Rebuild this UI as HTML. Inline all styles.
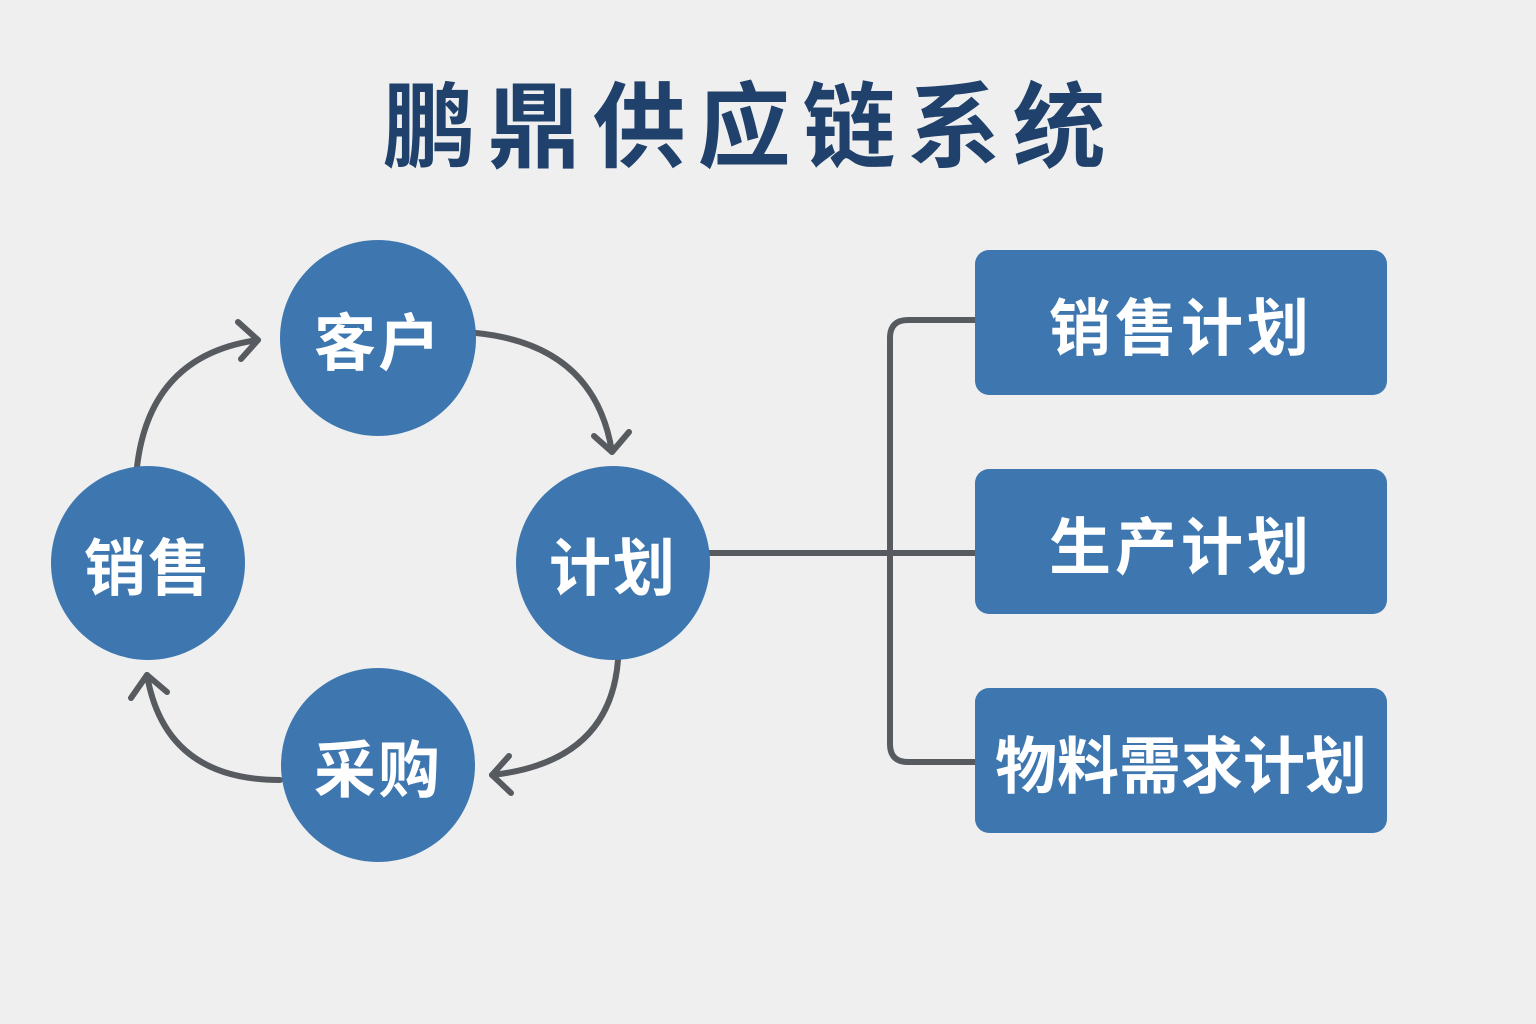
<!DOCTYPE html>
<html><head><meta charset="utf-8"><style>
html,body{margin:0;padding:0;background:#efefef;}
body{width:1536px;height:1024px;position:relative;overflow:hidden;font-family:"Liberation Sans","Noto Sans CJK SC",sans-serif;}
.t{position:absolute;left:0;width:1500px;top:68px;text-align:center;font-size:93px;font-weight:bold;color:#1f416b;letter-spacing:12px;line-height:120px;}
.c{position:absolute;border-radius:50%;background:#3e77b0;color:#fff;font-weight:bold;font-size:62px;display:flex;align-items:center;justify-content:center;letter-spacing:2px;}
.b{position:absolute;left:975px;width:412px;height:145px;border-radius:14px;background:#3e77b0;color:#fff;font-weight:bold;font-size:62px;display:flex;align-items:center;justify-content:center;letter-spacing:4px;}
</style></head><body>
<svg width="1536" height="1024" style="position:absolute;left:0;top:0" fill="none" stroke="#575b60" stroke-width="6" stroke-linecap="round" stroke-linejoin="round">
<path d="M700,553 H975"/>
<path d="M975,320 H908 Q890,320 890,338 V744 Q890,762 908,762 H975"/>
<path d="M137,467 Q150,355 258,340"/><path d="M238,322 L258,340 L241,359"/>
<path d="M476,333 Q595,345 612,452"/><path d="M594,436 L612,452 L629,432"/>
<path d="M618,660 Q610,762 492,775"/><path d="M509,756 L492,775 L511,793"/>
<path d="M280,780 Q165,780 147,675"/><path d="M131,698 L147,675 L167,692"/>
</svg>
<div class="t">鹏鼎供应链系统</div>
<div class="c" style="left:280px;top:240px;width:196px;height:196px">客户</div>
<div class="c" style="left:516px;top:466px;width:194px;height:194px">计划</div>
<div class="c" style="left:51px;top:466px;width:194px;height:194px">销售</div>
<div class="c" style="left:281px;top:668px;width:194px;height:194px">采购</div>
<div class="b" style="top:250px">销售计划</div>
<div class="b" style="top:469px">生产计划</div>
<div class="b" style="top:688px;letter-spacing:0">物料需求计划</div>
</body></html>
